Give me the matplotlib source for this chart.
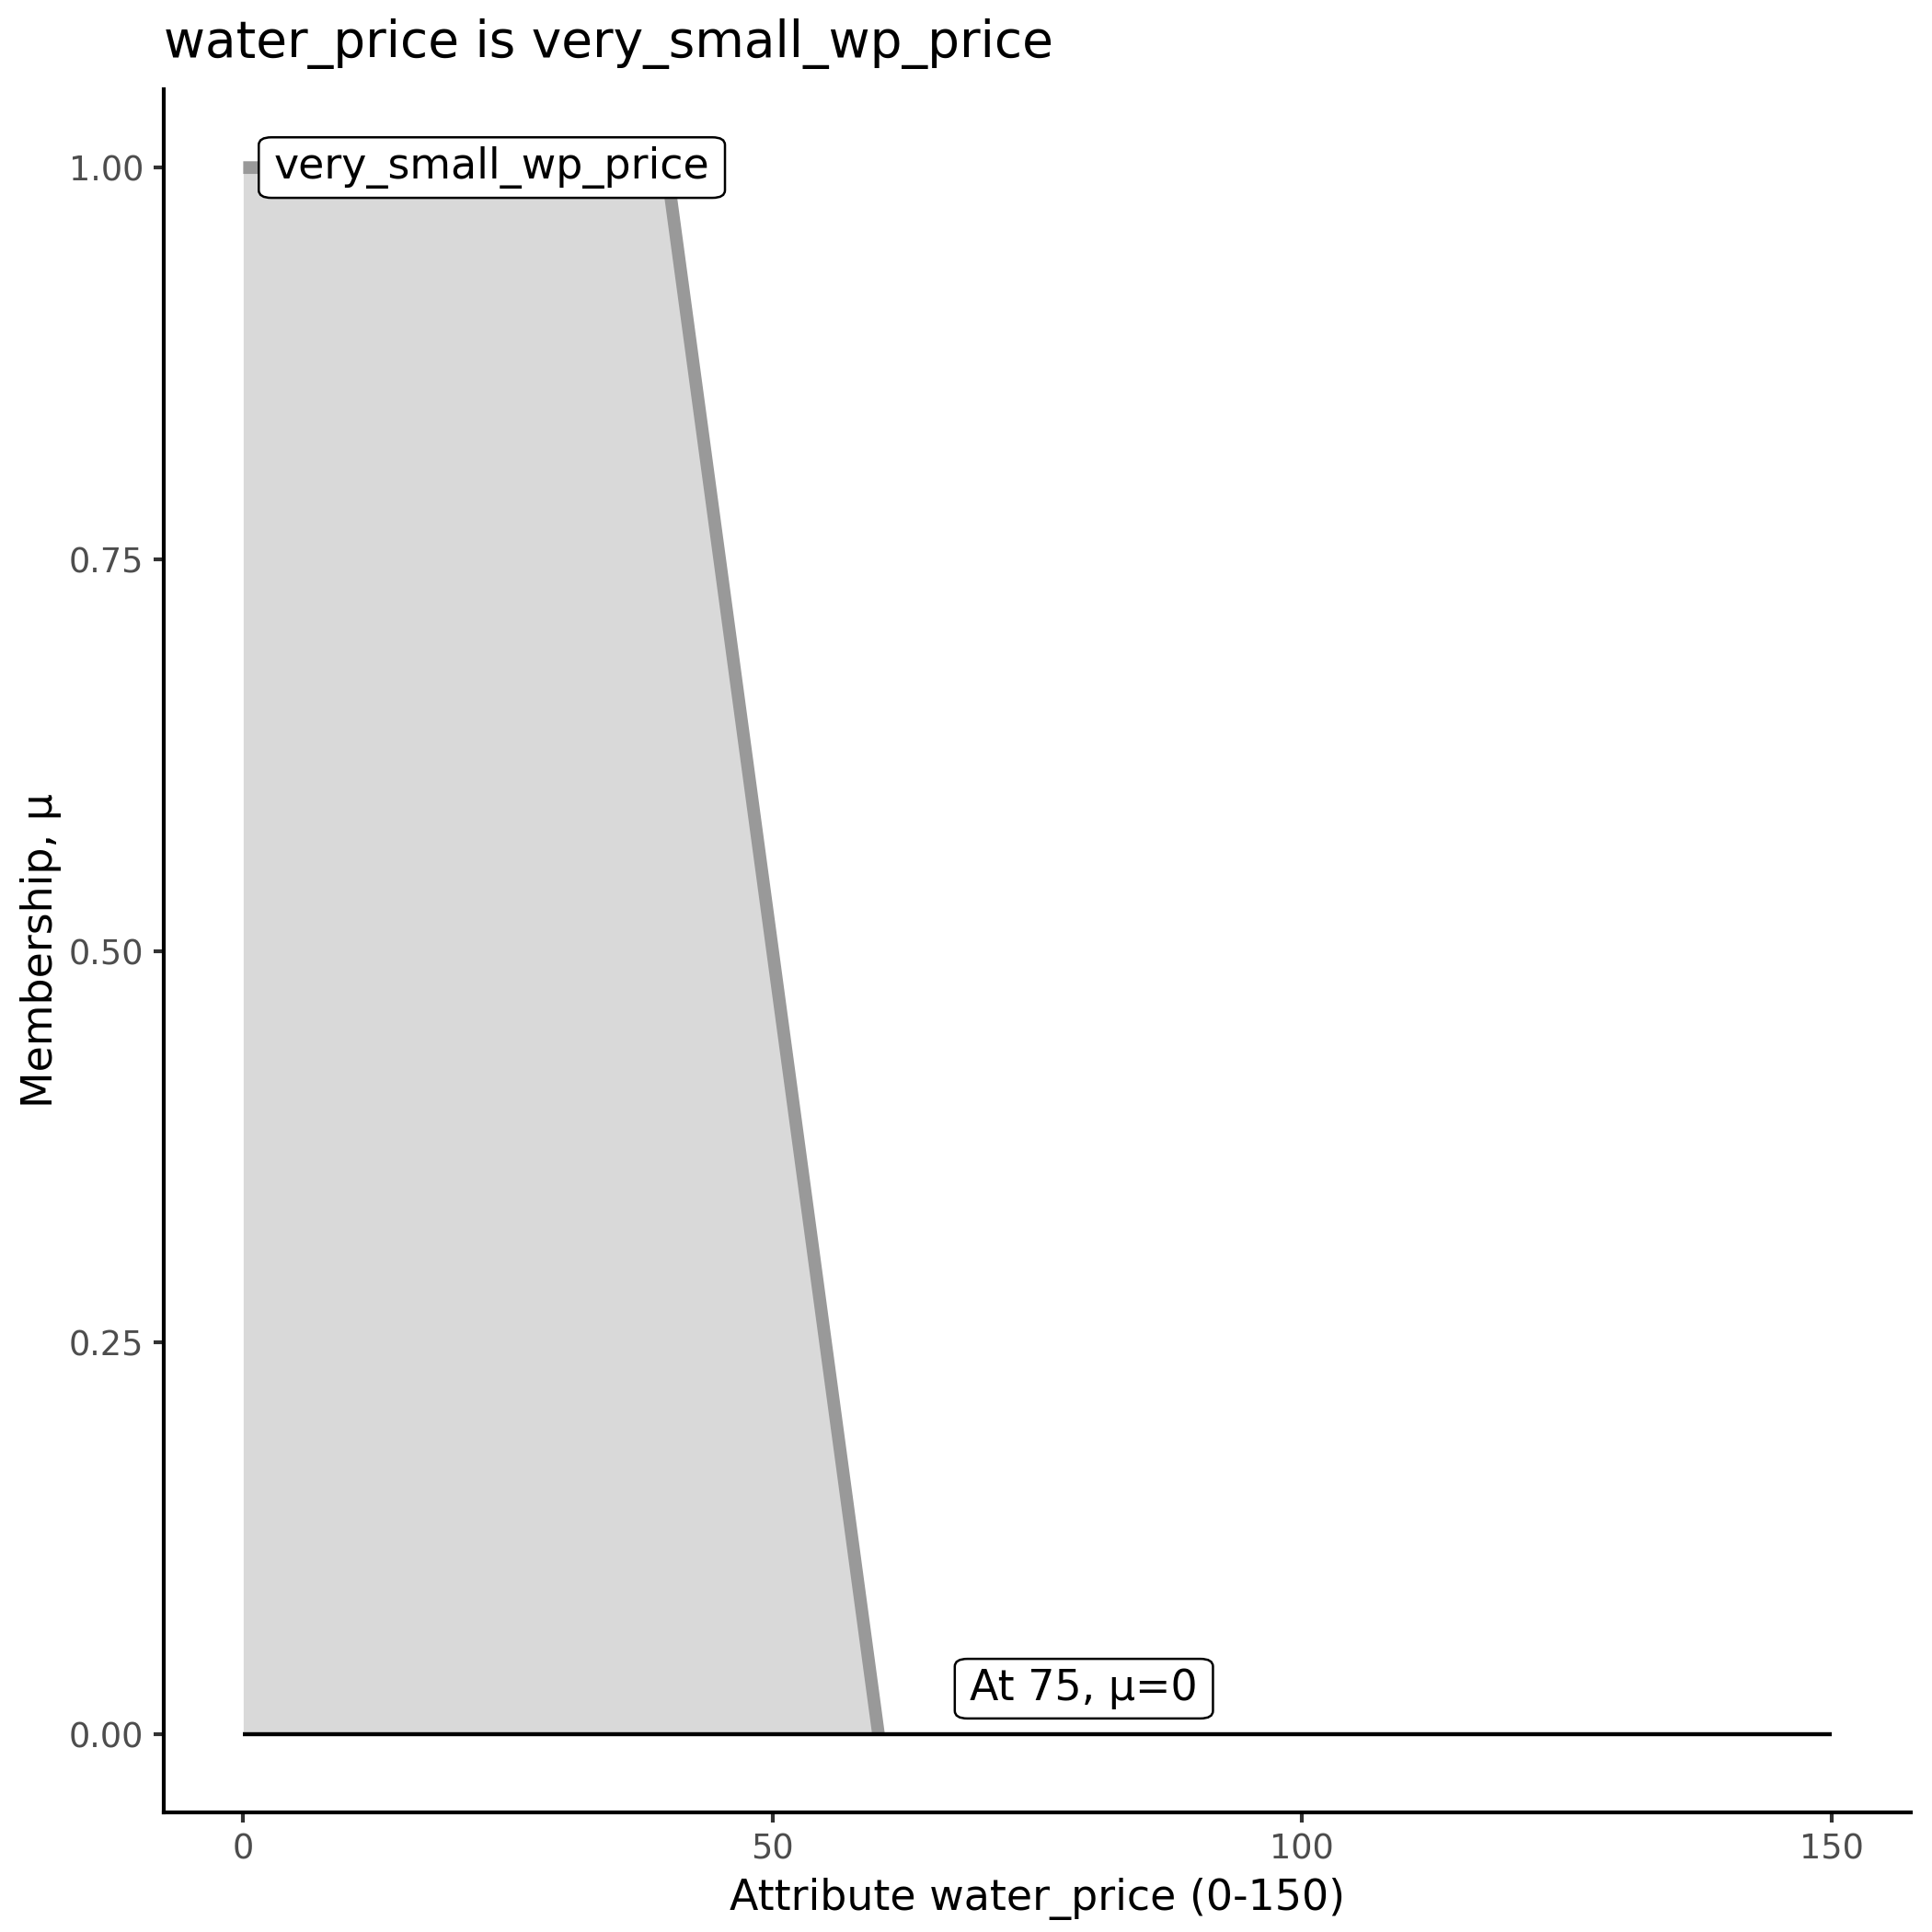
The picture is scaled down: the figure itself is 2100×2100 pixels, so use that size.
import matplotlib
matplotlib.use("Agg")
import matplotlib.pyplot as plt

# Data
mf_x = [0, 40, 60]
mf_y = [1.0, 1.0, 0.0]
base_x = [0, 150]
base_y = [0, 0]
set_label = "very_small_wp_price"
set_label_pos = (2.9, 1.0)
eval_label = "At 75, μ=0"
eval_label_pos = (79.4, 0.029)
x_ticks = [0, 50, 100, 150]
y_ticks = [0.00, 0.25, 0.50, 0.75, 1.00]
y_tick_labels = ["0.00", "0.25", "0.50", "0.75", "1.00"]

plt.rcParams['font.family'] = ['DejaVu Sans']

fig = plt.figure(figsize=(7, 7), dpi=300)
ax = fig.add_axes([0.0848, 0.0619, 0.989 - 0.0848, 0.9538 - 0.0619])

ax.fill_between(mf_x, mf_y, 0, color="#D9D9D9", linewidth=0, zorder=1)
ax.plot(mf_x, mf_y, color="#999999", linewidth=3.3, solid_capstyle="butt", zorder=2)
ax.plot(base_x, base_y, color="black", linewidth=1.05, solid_capstyle="butt", zorder=3)

bbox = dict(boxstyle="round,pad=0.36,rounding_size=0.3", fc="white", ec="black",
            lw=0.6, mutation_aspect=0.6)
ax.text(set_label_pos[0], set_label_pos[1], set_label, ha="left", va="center",
        fontsize=11, color="black", bbox=bbox, zorder=5)
ax.text(eval_label_pos[0], eval_label_pos[1], eval_label, ha="center", va="center",
        fontsize=11, color="black", bbox=bbox, zorder=5)

ax.set_xlim(-7.5, 157.5)
ax.set_ylim(-0.05, 1.05)
ax.set_xticks(x_ticks)
ax.set_yticks(y_ticks)
ax.set_yticklabels(y_tick_labels)

for s in ["top", "right"]:
    ax.spines[s].set_visible(False)
for s in ["left", "bottom"]:
    ax.spines[s].set_linewidth(1.0)
    ax.spines[s].set_color("black")
ax.tick_params(axis="both", length=2.75, width=1.0, color="#333333",
               labelcolor="#4D4D4D", labelsize=8.8, pad=2.5)

ax.set_xlabel("Attribute water_price (0-150)", fontsize=11, color="black", labelpad=3)
ax.set_ylabel("Membership, μ", fontsize=11, color="black", labelpad=1.8)
ax.set_title("water_price is very_small_wp_price", fontsize=13.2, loc="left", pad=8.3)

fig.savefig("out.png", dpi=300, facecolor="white")
